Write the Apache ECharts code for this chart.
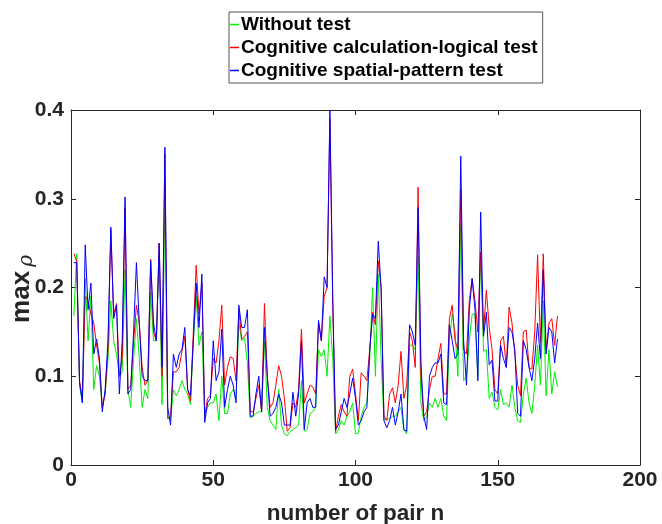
<!DOCTYPE html>
<html>
<head>
<meta charset="utf-8">
<script src="https://cdn.jsdelivr.net/npm/echarts@6/dist/echarts.min.js"></script>
<style>
  html, body { margin: 0; padding: 0; background: #fff; }
  #main { width: 662px; height: 524px; }
</style>
</head>
<body>
<div id="main"></div>
<script>
// values, pair n = 1..171
var withoutTest = [
  0.168, 0.238, 0.09, 0.07, 0.21, 0.14, 0.19, 0.085, 0.112, 0.1,
  0.065, 0.08, 0.12, 0.185, 0.14, 0.125, 0.1, 0.105, 0.22, 0.085,
  0.065, 0.12, 0.165, 0.12, 0.065, 0.085, 0.075, 0.195, 0.14, 0.14,
  0.24, 0.068, 0.3, 0.055, 0.05, 0.085, 0.078, 0.085, 0.095, 0.085,
  0.08, 0.068, 0.14, 0.19, 0.135, 0.15, 0.058, 0.065, 0.07, 0.07,
  0.08, 0.05, 0.1, 0.058, 0.058, 0.08, 0.085, 0.075, 0.16, 0.14,
  0.143, 0.115, 0.053, 0.055, 0.058, 0.06, 0.06, 0.14, 0.065, 0.05,
  0.045, 0.04, 0.085, 0.045, 0.035, 0.033, 0.038, 0.04, 0.042, 0.045,
  0.095, 0.038, 0.04, 0.058, 0.06, 0.065, 0.13, 0.122, 0.13, 0.1,
  0.168, 0.12, 0.035, 0.04, 0.05, 0.045, 0.055, 0.06, 0.07, 0.035,
  0.036, 0.055, 0.065, 0.07, 0.12, 0.2, 0.1, 0.215, 0.12, 0.05,
  0.052, 0.052, 0.055, 0.055, 0.06, 0.065, 0.04, 0.035, 0.135, 0.135,
  0.13, 0.235, 0.07, 0.05, 0.055, 0.07, 0.065, 0.075, 0.065, 0.075,
  0.055, 0.05, 0.14, 0.17, 0.15, 0.1, 0.27, 0.095, 0.1, 0.14,
  0.17, 0.17, 0.1, 0.24, 0.128, 0.13, 0.075, 0.082, 0.065, 0.062,
  0.085, 0.068, 0.07, 0.065, 0.09, 0.065, 0.05, 0.048, 0.08, 0.098,
  0.07, 0.058, 0.09, 0.135, 0.09, 0.185, 0.078, 0.13, 0.08, 0.105,
  0.088
];
var calcLogical = [
  0.238, 0.23, 0.095, 0.075, 0.19, 0.185, 0.17, 0.16, 0.135, 0.115,
  0.065, 0.08, 0.13, 0.265, 0.17, 0.182, 0.1, 0.12, 0.29, 0.085,
  0.09, 0.14, 0.18, 0.16, 0.11, 0.09, 0.095, 0.232, 0.15, 0.14,
  0.25, 0.1, 0.35, 0.052, 0.055, 0.105, 0.105, 0.11, 0.128, 0.145,
  0.085, 0.072, 0.15, 0.225, 0.17, 0.205, 0.055, 0.075, 0.078, 0.12,
  0.115, 0.14, 0.18, 0.09, 0.11, 0.122, 0.12, 0.095, 0.175, 0.142,
  0.145, 0.15, 0.06, 0.06, 0.075, 0.09, 0.06, 0.182, 0.1, 0.065,
  0.07, 0.09, 0.112, 0.1, 0.075, 0.038, 0.042, 0.07, 0.065, 0.085,
  0.153, 0.07, 0.08, 0.09, 0.088, 0.08, 0.16, 0.14, 0.19, 0.2,
  0.39, 0.18, 0.038, 0.055, 0.068, 0.06, 0.055, 0.1, 0.108, 0.08,
  0.05, 0.104, 0.1, 0.095, 0.13, 0.172, 0.158, 0.23, 0.2, 0.055,
  0.05, 0.08, 0.087, 0.07, 0.09, 0.128, 0.075, 0.09, 0.15, 0.14,
  0.11, 0.313, 0.1, 0.055, 0.06, 0.085, 0.1, 0.1, 0.12, 0.137,
  0.08, 0.08, 0.165, 0.18, 0.14, 0.13, 0.31, 0.13, 0.125, 0.185,
  0.21, 0.185, 0.15, 0.24, 0.15, 0.197, 0.155, 0.13, 0.085, 0.08,
  0.14, 0.145, 0.11, 0.178, 0.16, 0.125, 0.09, 0.078, 0.15, 0.152,
  0.11, 0.108, 0.15, 0.237, 0.138, 0.238, 0.13, 0.16, 0.165, 0.135,
  0.168
];
var spatialPattern = [
  0.228, 0.228, 0.093, 0.07, 0.248, 0.175, 0.205, 0.125, 0.142, 0.12,
  0.06, 0.085, 0.14, 0.268, 0.165, 0.18, 0.08, 0.14, 0.302, 0.08,
  0.085, 0.15, 0.228, 0.16, 0.1, 0.095, 0.095, 0.23, 0.16, 0.14,
  0.25, 0.11, 0.358, 0.065, 0.045, 0.125, 0.11, 0.125, 0.13, 0.155,
  0.085, 0.078, 0.14, 0.205, 0.155, 0.215, 0.048, 0.07, 0.075, 0.14,
  0.095, 0.105, 0.153, 0.065, 0.085, 0.1, 0.09, 0.07, 0.18, 0.155,
  0.155, 0.175, 0.055, 0.055, 0.08, 0.1, 0.06, 0.155, 0.1, 0.055,
  0.058, 0.065, 0.08, 0.07, 0.045, 0.045, 0.045, 0.082, 0.055, 0.08,
  0.14, 0.04, 0.07, 0.075, 0.065, 0.065, 0.163, 0.14, 0.212, 0.2,
  0.4, 0.19, 0.04, 0.045, 0.06, 0.075, 0.065, 0.08, 0.098, 0.075,
  0.045, 0.05, 0.06, 0.065, 0.13, 0.17, 0.165, 0.252, 0.2, 0.05,
  0.042, 0.05, 0.065, 0.045, 0.06, 0.08, 0.04, 0.038, 0.158, 0.15,
  0.135, 0.29, 0.115, 0.055, 0.04, 0.1, 0.11, 0.115, 0.115, 0.125,
  0.07, 0.068, 0.158, 0.14, 0.12, 0.125, 0.348, 0.14, 0.09, 0.175,
  0.21, 0.175, 0.095, 0.285, 0.145, 0.172, 0.113, 0.118, 0.072, 0.072,
  0.135, 0.12, 0.11, 0.155, 0.15, 0.13, 0.058, 0.055, 0.14, 0.13,
  0.11, 0.095, 0.12, 0.16, 0.12, 0.22, 0.125, 0.155, 0.15, 0.115,
  0.142
];
var seriesNames = ['Without test', 'Cognitive calculation-logical test', 'Cognitive spatial-pattern test'];
var xTicks = [0, 50, 100, 150, 200];
var yTicks = [0, 0.1, 0.2, 0.3, 0.4];

function pairs(arr) {
  return arr.map(function (v, i) { return [i + 1, v]; });
}

var dom = document.getElementById('main');
var myChart = echarts.init(dom, null, { renderer: 'canvas' });

var font = 'Liberation Sans, Arial, Helvetica, sans-serif';
var axisCol = '#262626';

// box axes: top/right copies with inward ticks and no labels
function boxAxis(extra) {
  return Object.assign({
    type: 'value',
    axisLine: { show: true, onZero: false, lineStyle: { color: axisCol, width: 1 } },
    axisTick: { show: true, inside: true, length: 5, lineStyle: { color: axisCol } },
    axisLabel: { show: false },
    splitLine: { show: false }
  }, extra);
}

var option = {
  animation: false,
  backgroundColor: '#fff',
  color: ['#00ee00', '#ff0000', '#0000ff'],
  legend: {
    orient: 'vertical',
    left: 229,
    top: 12,
    padding: [3, 5, 3, 1],
    itemGap: 4,
    itemWidth: 9,
    itemHeight: 1.5,
    icon: 'rect',
    backgroundColor: '#fff',
    borderColor: '#555',
    borderWidth: 1,
    textStyle: { fontFamily: font, fontWeight: 'bold', fontSize: 19, color: '#000', padding: [0, 0, 0, -3] },
    data: seriesNames
  },
  // y axis title (max with subscript rho), rotated like the original
  graphic: [{
    type: 'text',
    x: 22,
    y: 289,
    rotation: Math.PI / 2,
    style: {
      text: '{b|max}{i|ρ}',
      align: 'center',
      verticalAlign: 'middle',
      rich: {
        b: { fontFamily: font, fontWeight: 'bold', fontSize: 26, fill: axisCol },
        i: { fontFamily: 'DejaVu Serif, serif', fontStyle: 'italic', fontSize: 20, fill: axisCol, padding: [9, 0, 0, 4] }
      }
    }
  }],
  grid: { left: 71, right: 22, top: 110, bottom: 59, outerBoundsMode: 'none', containLabel: false },
  xAxis: [
    boxAxis({
      min: xTicks[0], max: xTicks[xTicks.length - 1], interval: 50,
      name: 'number of pair n', nameLocation: 'middle', nameGap: 37,
      nameTextStyle: { fontFamily: font, fontWeight: 'bold', fontSize: 22.5, color: axisCol },
      axisLabel: { fontFamily: font, fontWeight: 'bold', fontSize: 21, color: axisCol, margin: 5 }
    }),
    boxAxis({ min: xTicks[0], max: xTicks[xTicks.length - 1], interval: 50, position: 'top' })
  ],
  yAxis: [
    boxAxis({
      min: yTicks[0], max: yTicks[yTicks.length - 1], interval: 0.1,
      axisLabel: {
        show: true, fontFamily: font, fontWeight: 'bold', fontSize: 21, color: axisCol, margin: 7,
        formatter: function (v) { return v === 0 ? '0' : v.toFixed(1); }
      }
    }),
    boxAxis({ min: yTicks[0], max: yTicks[yTicks.length - 1], interval: 0.1, position: 'right' })
  ],
  series: [
    { name: seriesNames[0], type: 'line', data: pairs(withoutTest), showSymbol: false, lineStyle: { width: 1 } },
    { name: seriesNames[1], type: 'line', data: pairs(calcLogical), showSymbol: false, lineStyle: { width: 1 } },
    { name: seriesNames[2], type: 'line', data: pairs(spatialPattern), showSymbol: false, lineStyle: { width: 1 } }
  ]
};

myChart.setOption(option);
window.addEventListener('resize', myChart.resize);
</script>
</body>
</html>
